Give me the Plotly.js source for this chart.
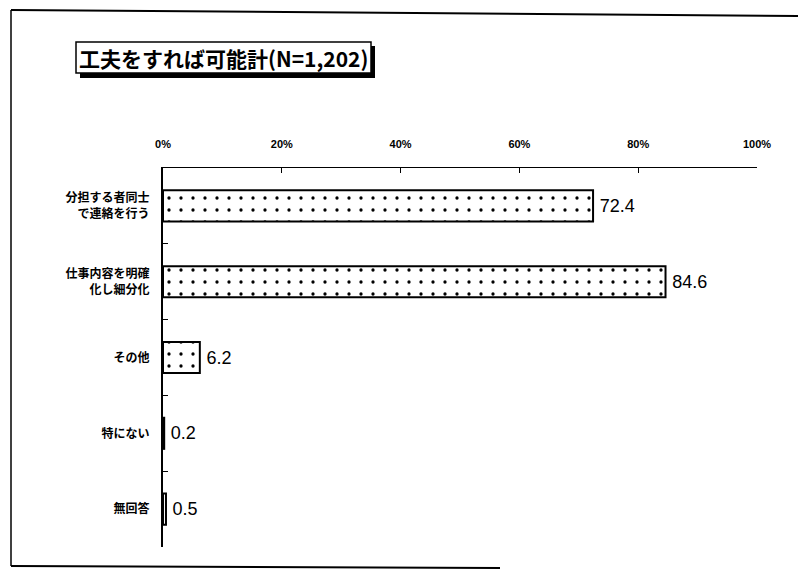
<!DOCTYPE html>
<html>
<head>
<meta charset="utf-8">
<script src="https://cdn.plot.ly/plotly-3.0.1.min.js"></script>
<style>html,body{margin:0;padding:0;background:#fff;}#chart{width:798px;height:573px;}</style>
</head>
<body>
<div id="chart"></div>
<script>
const categories = ["分担する者同士<br>で連絡を行う", "仕事内容を明確<br>化し細分化", "その他", "特にない", "無回答"];
const values = [72.4, 84.6, 6.2, 0.2, 0.5];
const xTicks = [0, 20, 40, 60, 80, 100];
const xTickLabels = ["0%", "20%", "40%", "60%", "80%", "100%"];
const titleText = "工夫をすれば可能計(N=1,202)";

const W = 798, H = 573, L = 163, R = 41, T = 168, B = 26;
const pw = W - L - R, ph = H - T - B;
const px = x => (x - L) / pw;
const py = y => (H - B - y) / ph;

const trace = {
  type: 'bar',
  orientation: 'h',
  y: categories,
  x: values,
  text: values.map(v => '\u2009' + v.toFixed(1)),
  textposition: 'outside',
  cliponaxis: false,
  textfont: {family: 'Liberation Sans, Arial, sans-serif', size: 18, color: '#000'},
  marker: {
    color: '#fff',
    line: {color: '#000', width: 2},
    pattern: {shape: '.', fgcolor: '#000', bgcolor: '#fff', size: 12, solidity: 0.06}
  },
  width: 0.41,
  hoverinfo: 'none'
};

const layout = {
  width: W, height: H,
  margin: {l: L, r: R, t: T, b: B, pad: 0},
  paper_bgcolor: '#fff', plot_bgcolor: '#fff',
  showlegend: false,
  font: {family: 'Noto Sans CJK JP, sans-serif', color: '#000'},
  xaxis: {
    side: 'top', range: [0, 100], tickvals: xTicks, ticktext: xTickLabels,
    ticks: 'inside', ticklen: 5, tickcolor: '#000', tickwidth: 1,
    showline: true, linecolor: '#000', linewidth: 1.5,
    showgrid: false, zeroline: false, ticklabelstandoff: 14,
    tickfont: {family: 'Liberation Sans Narrow, Liberation Sans, Arial, sans-serif', size: 11, weight: 'bold', color: '#000'}
  },
  yaxis: {
    autorange: 'reversed', type: 'category',
    ticks: 'inside', tickson: 'boundaries', ticklen: 5, tickcolor: '#000',
    showline: true, linecolor: '#000', linewidth: 2,
    showgrid: false, zeroline: false, ticklabelstandoff: 9,
    tickfont: {family: 'Noto Sans CJK JP, sans-serif', size: 12, weight: 'bold', color: '#000'}
  },
  shapes: [
    {type: 'line', xref: 'paper', yref: 'paper', x0: px(11), y0: py(10), x1: px(798), y1: py(16), line: {color: '#000', width: 2}},
    {type: 'line', xref: 'paper', yref: 'paper', x0: px(11), y0: py(10), x1: px(11), y1: py(566), line: {color: '#000', width: 1.5}},
    {type: 'line', xref: 'paper', yref: 'paper', x0: px(11), y0: py(566), x1: px(500), y1: py(568), line: {color: '#000', width: 2}},
    {type: 'rect', xref: 'paper', yref: 'paper', x0: px(80), y0: py(46), x1: px(375), y1: py(78), fillcolor: '#000', line: {width: 0}, layer: 'below'},
    {type: 'rect', xref: 'paper', yref: 'paper', x0: px(76), y0: py(42), x1: px(371), y1: py(73), fillcolor: '#fff', line: {color: '#000', width: 1.5}}
  ],
  annotations: [
    {text: titleText, xref: 'paper', yref: 'paper', x: px(223), y: py(58), xanchor: 'center', yanchor: 'middle', showarrow: false,
     font: {family: 'Noto Sans CJK JP, sans-serif', size: 21, weight: 'bold', color: '#000'}}
  ]
};

Plotly.newPlot('chart', [trace], layout, {displayModeBar: false, staticPlot: true});
</script>
</body>
</html>
